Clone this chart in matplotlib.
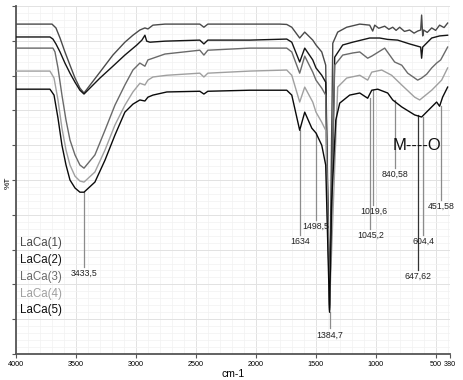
import matplotlib
matplotlib.use('Agg')
import matplotlib.pyplot as plt
from matplotlib.ticker import MultipleLocator, FixedLocator

plt.rcParams['font.family'] = ['Liberation Sans Narrow', 'Liberation Sans', 'DejaVu Sans']

# FT-IR spectra (wavenumber cm-1, %T)
w1 = [4000, 3700, 3667, 3633, 3592, 3550, 3508, 3467, 3433, 3300, 3192, 3092, 3025, 2967, 2925, 2900,
      2858, 2758, 2467, 2433, 2400, 2050, 1800, 1742, 1700, 1634, 1592, 1525, 1498, 1450, 1417, 1385,
      1358, 1317, 1242, 1133, 1050, 1025, 1008, 975, 925, 890, 858, 830, 800, 760, 717, 680, 650, 625,
      617, 608, 600, 570, 533, 500, 467, 430, 400]
t1 = [94.8, 94.8, 93.7, 90.8, 86.8, 83.0, 79.3, 76.4, 75.0, 81.0, 85.9, 89.6, 91.6, 93.1, 93.7, 93.4,
      94.5, 94.8, 94.8, 93.9, 94.8, 94.8, 94.8, 94.7, 93.9, 90.8, 92.5, 90.2, 88.8, 86.8, 83.0, 14.0,
      89.3, 92.5, 93.9, 94.8, 94.5, 92.8, 94.5, 93.6, 94.2, 93.3, 93.9, 93.0, 93.9, 92.7, 93.1, 92.2, 92.8, 93.1,
      97.4, 91.4, 93.1, 92.4, 93.7, 93.0, 94.5, 93.8, 95.1]

w2 = [4000, 3717, 3692, 3667, 3633, 3592, 3550, 3508, 3467, 3433, 3300, 3192, 3092, 2992, 2950, 2925,
      2910, 2883, 2758, 2467, 2433, 2400, 2050, 1742, 1700, 1634, 1592, 1525, 1498, 1450, 1417, 1385,
      1342, 1275, 1192, 1050, 967, 900, 817, 717, 625, 617, 608, 533, 467, 400]
t2 = [91.1, 91.1, 90.5, 89.1, 86.8, 83.6, 80.7, 78.1, 75.8, 74.7, 79.3, 82.7, 85.9, 88.8, 90.2, 91.6,
      89.9, 89.6, 89.9, 90.2, 89.1, 90.2, 90.2, 90.5, 89.6, 83.9, 87.9, 84.5, 82.2, 80.1, 78.1, 12.6,
      85.3, 88.8, 89.6, 90.8, 90.8, 90.4, 90.2, 89.1, 88.2, 85.0, 88.2, 90.8, 91.4, 91.6]

w3 = [4000, 3692, 3675, 3650, 3617, 3583, 3550, 3508, 3467, 3433, 3342, 3258, 3175, 3092, 3025, 2967,
      2925, 2900, 2858, 2758, 2467, 2433, 2400, 2050, 1742, 1700, 1634, 1592, 1525, 1498, 1450, 1417,
      1385, 1342, 1275, 1192, 1133, 1067, 1033, 925, 842, 783, 733, 650, 617, 575, 533, 492, 458, 400]
t3 = [87.9, 87.9, 86.8, 82.2, 74.4, 67.2, 61.5, 57.2, 54.3, 53.4, 57.2, 64.3, 71.5, 77.3, 81.6, 83.6,
      82.7, 84.5, 85.0, 86.2, 87.3, 85.9, 87.3, 87.9, 87.9, 86.8, 80.7, 85.6, 81.0, 78.7, 76.4, 74.4,
      13.2, 83.0, 85.9, 86.5, 86.8, 85.0, 85.6, 87.9, 83.9, 83.0, 80.7, 78.7, 79.3, 80.4, 82.2, 83.6, 84.5, 88.2]

w4 = [4000, 3717, 3683, 3650, 3617, 3583, 3550, 3508, 3467, 3433, 3342, 3258, 3175, 3092, 3025, 2967,
      2925, 2900, 2858, 2742, 2467, 2433, 2400, 2050, 1742, 1700, 1634, 1592, 1525, 1498, 1450, 1417,
      1385, 1317, 1242, 1133, 1067, 1033, 950, 867, 783, 675, 633, 533, 450, 400]
t4 = [81.3, 81.3, 79.3, 73.0, 64.9, 58.6, 54.3, 51.1, 49.7, 49.4, 52.3, 58.6, 65.8, 71.5, 75.3, 77.8,
      77.3, 78.7, 79.6, 80.1, 80.7, 79.6, 80.7, 81.3, 81.6, 80.1, 72.4, 76.7, 72.4, 69.5, 66.6, 64.3,
      13.8, 76.7, 79.3, 80.1, 78.7, 81.0, 81.6, 80.1, 77.3, 73.8, 73.0, 75.8, 78.7, 82.2]

w5 = [4000, 3717, 3683, 3650, 3617, 3583, 3550, 3508, 3467, 3433, 3342, 3258, 3175, 3092, 3025, 2967,
      2925, 2900, 2858, 2742, 2467, 2433, 2400, 2050, 1742, 1700, 1634, 1592, 1533, 1498, 1450, 1417,
      1385, 1367, 1333, 1300, 1217, 1133, 1067, 1033, 983, 900, 858, 783, 675, 617, 533, 492, 467, 442, 400]
t5 = [76.1, 76.1, 74.4, 67.8, 60.0, 54.3, 50.0, 47.7, 46.5, 46.5, 49.4, 55.7, 62.9, 69.5, 71.8, 73.0,
      72.7, 73.8, 74.4, 75.3, 75.5, 74.7, 75.5, 75.8, 75.8, 74.4, 64.3, 69.5, 64.9, 63.5, 60.0, 54.3,
      12.0, 44.2, 67.2, 72.1, 74.4, 75.0, 73.5, 75.8, 76.1, 75.0, 73.0, 71.0, 68.7, 68.1, 71.0, 72.4, 71.2, 73.8, 76.7]

names = ['LaCa(1)', 'LaCa(2)', 'LaCa(3)', 'LaCa(4)', 'LaCa(5)']
colors = ['#4a4a4a', '#151515', '#6a6a6a', '#a0a0a0', '#0a0a0a']

# peak marks: wavenumber, label, line top, line bottom (%T)
peak_w = [3433.5, 1634, 1498.5, 1384.7, 1045.2, 1019.6, 840.58, 647.62, 604.4, 451.58]
peak_lbl = ['3433,5', '1634', '1498,5', '1384,7', '1045,2', '1019,6', '840,58', '647,62', '604,4', '451,58']
peak_top = [46.5, 64.3, 63.5, 12.0, 73.5, 75.8, 73.0, 68.7, 68.1, 71.2]
peak_bot = [25.0, 34.2, 38.5, 7.4, 35.9, 42.8, 53.4, 24.1, 34.2, 44.2]

fig = plt.figure(figsize=(4.63, 3.80), dpi=100)
ax = fig.add_axes([0.0346, 0.0684, 0.9374, 0.9158])

for w, t, name, c in zip([w1, w2, w3, w4, w5], [t1, t2, t3, t4, t5], names, colors):
    ax.plot(w, t, color=c, lw=1.0, label=name, zorder=3)

for pw, lbl, top, bot in zip(peak_w, peak_lbl, peak_top, peak_bot):
    lc = '#333333' if lbl == '647,62' else '#8c8c8c'
    ax.plot([pw, pw], [top, bot], color=lc, lw=0.9, zorder=2)
    ax.text(pw, bot - 0.6, lbl, ha='center', va='top', fontsize=6.3, color='#222222')

ax.text(658, 60.0, 'M----O', ha='center', va='center', fontsize=12, color='#111111')

ax.set_xlim(4000, 380)
ax.set_ylim(0, 100)
ax.xaxis.set_major_locator(FixedLocator([4000, 3500, 3000, 2500, 2000, 1500, 1000, 500, 380]))
ax.set_xticklabels(['4000', '3500', '3000', '2500', '2000', '1500', '1000', '500', '380'])
ax.xaxis.set_minor_locator(MultipleLocator(100))
ax.yaxis.set_major_locator(MultipleLocator(10))
ax.yaxis.set_minor_locator(MultipleLocator(2))
ax.set_yticklabels([])
ax.grid(which='major', color='#e2e2e2', lw=0.7)
ax.grid(which='minor', color='#f1f1f1', lw=0.5)
ax.set_axisbelow(True)
ax.tick_params(axis='x', which='major', labelsize=5.2, length=3, width=0.8, color='#555555', pad=2)
ax.tick_params(axis='y', which='major', length=3, width=0.8, color='#555555')
ax.tick_params(which='minor', length=0)
for s in ['top', 'right']:
    ax.spines[s].set_visible(False)
for s in ['left', 'bottom']:
    ax.spines[s].set_color('#555555')
    ax.spines[s].set_linewidth(1.3)

ax.set_xlabel('cm-1', fontsize=7.5, labelpad=1)
fig.text(0.018, 0.52, '%T', rotation=90, ha='center', va='center', fontsize=6)

leg = ax.legend(loc='lower left', bbox_to_anchor=(-0.01, 0.085), frameon=False, handlelength=0,
                handletextpad=0, fontsize=8.3, labelspacing=0.42, labelcolor='linecolor', borderpad=0.2)
for h in leg.legend_handles:
    h.set_visible(False)

fig.savefig('out.png', dpi=100, facecolor='white')
